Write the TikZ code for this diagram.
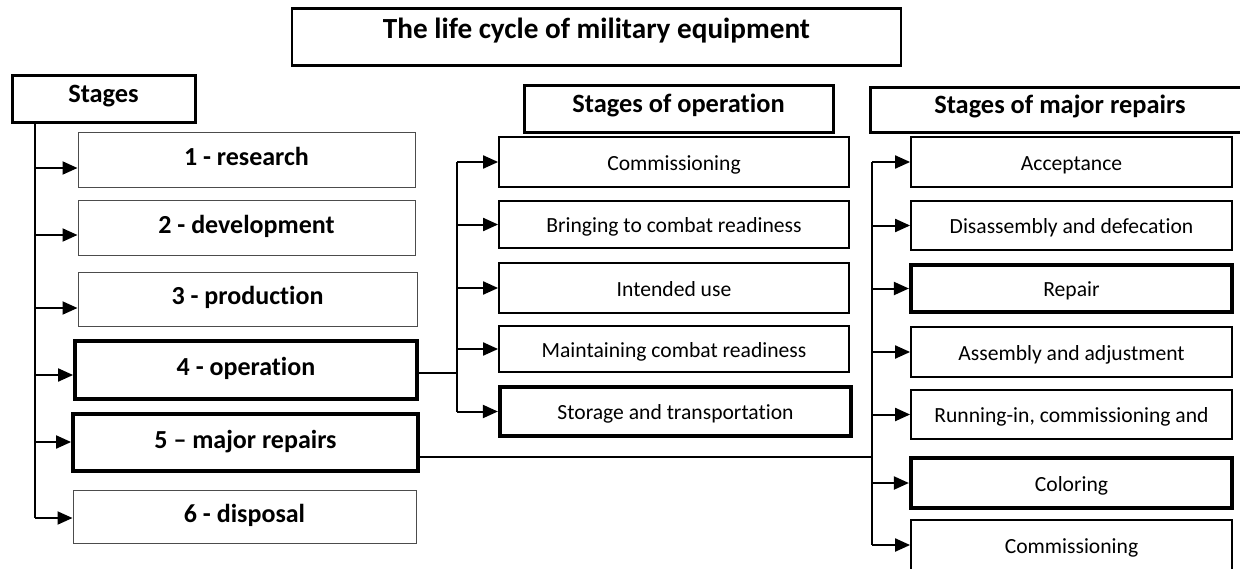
\documentclass[tikz,border=0pt]{standalone}
\usepackage{fontspec}
\setmainfont{Carlito}[Ligatures={NoCommon}, RawFeature={-liga;-clig}]
\usetikzlibrary{arrows.meta}
\begin{document}
\begin{tikzpicture}[x=0.5pt,y=-0.5pt,
  boxbase/.style={rectangle, draw=black, inner sep=0pt, align=center},
  bigtxt/.style={font=\fontsize{13}{15}\selectfont\bfseries, text height=0.8em, text depth=0.25em},
  headtxt/.style={font=\fontsize{13.2}{15}\selectfont\bfseries, text height=0.6em, text depth=0.25em},
  smalltxt/.style={font=\fontsize{10.8}{13}\selectfont, text height=1.0em, text depth=0.2em},
  thinbox/.style={boxbase, draw=black!70, line width=0.5pt, bigtxt},
  thickbig/.style={boxbase, line width=1.9pt, bigtxt},
  headbox/.style={boxbase, line width=1.5pt, headtxt},
  opbox/.style={boxbase, line width=0.9pt, smalltxt},
  opthick/.style={boxbase, line width=2.1pt, smalltxt},
  conn/.style={line width=1pt, black},
  arr/.style={conn, -{Triangle[length=7.5pt,width=6.5pt]}}
]
\clip (0,0) rectangle (1240,568);
\fill[white] (0,0) rectangle (1240,568);

% title
\node[boxbase, line width=1.1pt, minimum width=304.5pt, minimum height=28.5pt,
  label={[font=\fontsize{14.6}{17}\selectfont\bfseries, text height=0.8em, text depth=0.25em, yshift=2.2pt]center:The life cycle of military equipment}] (title) at (596.5,37) {};

% stages column
\node[headbox, minimum width=91.5pt, minimum height=23.5pt] (stages) at (103.5,98.5) {Stages};
\node[thinbox, minimum width=168.5pt, minimum height=27.5pt] (s1) at (246.5,159.5) {1 - research};
\node[thinbox, minimum width=168.5pt, minimum height=27.5pt] (s2) at (246.5,227.5) {2 - development};
\node[thinbox, minimum width=169.5pt, minimum height=27pt] (s3) at (247.5,299) {3 - production};
\node[thickbig, minimum width=171pt, minimum height=29pt] (s4) at (246,370) {4 - operation};
\node[thickbig, minimum width=172.5pt, minimum height=28.5pt] (s5) at (245.5,442.5) {5 – major repairs};
\node[thinbox, minimum width=171.5pt, minimum height=26.5pt] (s6) at (244.5,516.5) {6 - disposal};

\coordinate (spx) at (35,0);
\coordinate (a1) at (35,168);
\coordinate (a2) at (35,235);
\coordinate (a3) at (35,308);
\coordinate (a4) at (35,375);
\coordinate (a5) at (35,442);
\coordinate (a6) at (35,518);
\draw[conn] (stages.south -| spx) -- (a6);
\draw[arr] (a1) -- (s1.west |- a1);
\draw[arr] (a2) -- (s2.west |- a2);
\draw[arr] (a3) -- (s3.west |- a3);
\draw[arr] (a4) -- (s4.west |- a4);
\draw[arr] (a5) -- (s5.west |- a5);
\draw[arr] (a6) -- (s6.west |- a6);

% operation column
\node[headbox, minimum width=154.5pt, minimum height=23.5pt] (ophead) at (678.5,108.5) {Stages of operation};
\node[opbox, minimum width=175pt, minimum height=25pt] (o1) at (674,162) {Commissioning};
\node[opbox, minimum width=175pt, minimum height=23.5pt] (o2) at (674,224.5) {Bringing to combat readiness};
\node[opbox, minimum width=175pt, minimum height=25pt] (o3) at (674,288) {Intended use};
\node[opbox, minimum width=175pt, minimum height=23pt] (o4) at (674,349) {Maintaining combat readiness};
\node[opthick, minimum width=175.5pt, minimum height=24.5pt] (o5) at (675.5,411.5) {Storage and transportation};

\coordinate (opx) at (457,0);
\coordinate (oj) at (457,373);
\draw[conn] (s4.east |- oj) -- (oj);
\draw[conn] (o1.west -| opx) -- (o5.west -| opx);
\foreach \n in {o1,o2,o3,o4,o5} \draw[arr] (\n.west -| opx) -- (\n.west);

% repairs column
\node[headbox, minimum width=190pt, minimum height=22.5pt] (rhead) at (1060,109.5) {Stages of major repairs};
\node[opbox, minimum width=160.5pt, minimum height=25pt] (r1) at (1071.5,162) {Acceptance};
\node[opbox, minimum width=160.5pt, minimum height=24.5pt] (r2) at (1071.5,225.5) {Disassembly and defecation};
\node[opthick, minimum width=160.5pt, minimum height=23.5pt] (r3) at (1071.5,288.5) {Repair};
\node[opbox, minimum width=160.5pt, minimum height=25pt] (r4) at (1071.5,352) {Assembly and adjustment};
\node[opbox, minimum width=160.5pt, minimum height=24.5pt] (r5) at (1071.5,414.5) {Running-in, commissioning and};
\node[opthick, minimum width=160.5pt, minimum height=25pt] (r6) at (1071.5,483) {Coloring};
\node[opbox, minimum width=160.5pt, minimum height=25pt] (r7) at (1071.5,545) {Commissioning};

\coordinate (rpx) at (872,0);
\coordinate (rj) at (872,457);
\draw[conn] (s5.east |- rj) -- (rj);
\draw[conn] (r1.west -| rpx) -- (r7.west -| rpx);
\foreach \n in {r1,r2,r3,r4,r5,r6,r7} \draw[arr] (\n.west -| rpx) -- (\n.west);
\end{tikzpicture}
\end{document}
